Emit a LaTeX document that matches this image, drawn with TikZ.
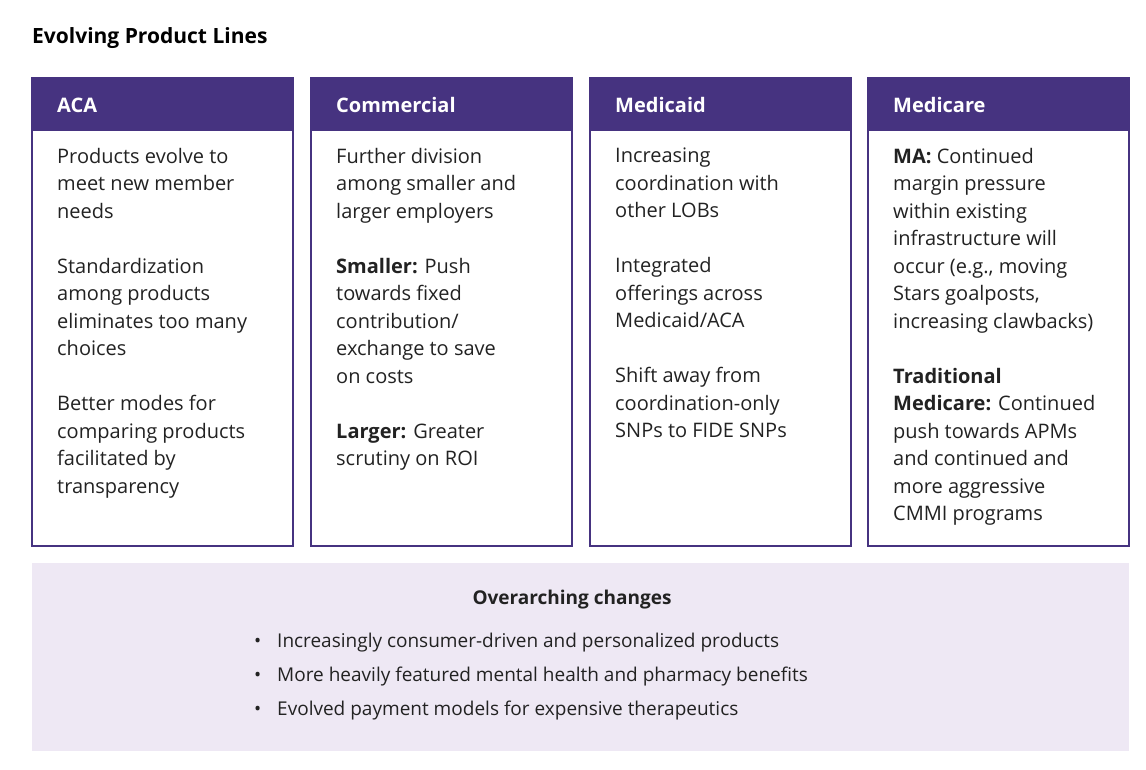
\documentclass[tikz,border=0pt]{standalone}
\usepackage{fontspec}
\setmainfont{Open Sans}
\definecolor{pur}{HTML}{463380}
\definecolor{lav}{HTML}{EEE8F4}
\definecolor{txt}{HTML}{222222}
\begin{document}
\begin{tikzpicture}[x=1pt,y=-1pt,
  box/.style={draw=pur,line width=2pt},
  head/.style={fill=pur},
  htxt/.style={anchor=base west,inner sep=0,text=white,font=\fontsize{20}{24}\selectfont\bfseries},
  body/.style={anchor=north west,inner sep=0,align=left,text=txt,font=\fontsize{20}{27.5}\selectfont},
  bul/.style={anchor=base west,inner sep=0,text=txt,font=\fontsize{19}{24}\selectfont}]
\useasboundingbox (0,0) rectangle (1146,769);
\node[anchor=base west,inner sep=0,text=black,font=\fontsize{21}{24}\selectfont\bfseries] (title) at (32,43) {Evolving Product Lines};
\foreach \n/\x/\t in {a/32/ACA,c/311/Commercial,d/590/Medicaid,e/868/Medicare}{
  \fill[pur] (\x,78) rectangle ++(261,53);
  \draw[box] (\x,78) rectangle ++(261,468);
  \node[htxt] (h\n) at (\x+25,112) {\t};
}
\node[body] (ba) at (57,148) {Products evolve to\\meet new member\\needs\\[27.5pt]Standardization\\among products\\eliminates too many\\choices\\[27.5pt]Better modes for\\comparing products\\facilitated by\\transparency};
\node[body] (bc) at (336,148) {Further division\\among smaller and\\larger employers\\[27.5pt]\textbf{Smaller:} Push\\towards fixed\\contribution/\\exchange to save\\on costs\\[27.5pt]\textbf{Larger:} Greater\\scrutiny on ROI};
\node[body] (bd) at (615,148) {Increasing\\coordination with\\other LOBs\\[27.5pt]Integrated\\offerings across\\Medicaid/ACA\\[27.5pt]Shift away from\\coordination-only\\SNPs to FIDE SNPs};
\node[body] (be) at (893,148) {\textbf{MA:} Continued\\margin pressure\\within existing\\infrastructure will\\occur (e.g., moving\\Stars goalposts,\\increasing clawbacks)\\[27.5pt]\textbf{Traditional}\\\textbf{Medicare:} Continued\\push towards APMs\\and continued and\\more aggressive\\CMMI programs};
\fill[lav] (32,563) rectangle (1129,751);
\node[anchor=base,inner sep=0,text=txt,font=\fontsize{19}{24}\selectfont\bfseries] (ov) at (572,604) {Overarching changes};
\foreach \y/\t [count=\i] in {647/Increasingly consumer-driven and personalized products,681/More heavily featured mental health and pharmacy benefits,715/Evolved payment models for expensive therapeutics}{
  \node[bul] (d\i) at (254,\y) {•};
  \node[bul] (l\i) at (277,\y) {\t};
}
\end{tikzpicture}
\end{document}
